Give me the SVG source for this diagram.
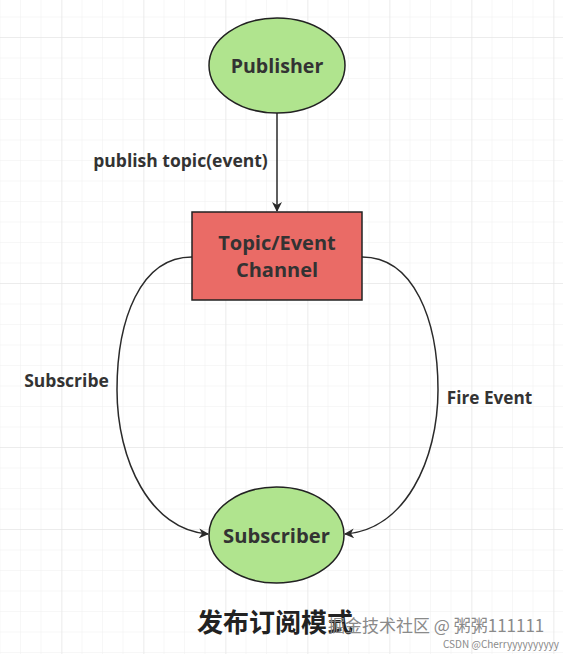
<svg xmlns="http://www.w3.org/2000/svg" width="563" height="654" viewBox="0 0 563 654">
<style>
.node{stroke:#222;stroke-width:1.5}
.lbl{font-family:"Open Sans","Noto Sans",sans-serif;font-weight:bold;fill:#333;text-anchor:middle}
.edge{fill:none;stroke:#2a2a2a;stroke-width:1.5}
.wm{font-family:"Noto Sans CJK SC",sans-serif;fill:#8a8a8a}
</style>
<defs>
<pattern id="minor" patternUnits="userSpaceOnUse" x="-0.5" y="16.5" width="20.5" height="20.5">
<path d="M0,0 H20.5 M0,0 V20.5" fill="none" stroke="#efefef" stroke-width="1"/>
</pattern>
<pattern id="major" patternUnits="userSpaceOnUse" x="-20.5" y="37" width="82" height="82">
<path d="M0,0 H82 M0,0 V82" fill="none" stroke="#e2e2e2" stroke-width="1"/>
</pattern>
<marker id="arr" viewBox="0 0 10 10" refX="9" refY="5" markerWidth="10" markerHeight="10" markerUnits="userSpaceOnUse" orient="auto">
<path d="M0,0 L10,5 L0,10 L3,5 z" fill="#2a2a2a"/>
</marker>
</defs>
<rect width="563" height="654" fill="#fff"/>
<rect width="563" height="654" fill="url(#minor)"/>
<rect width="563" height="654" fill="url(#major)"/>

<g id="connectors">
<path class="edge" d="M277,113 V211" marker-end="url(#arr)"/>
<path class="edge" d="M192,257 C140,257 117,320 117,390 C117,460 150,530 208,534" marker-end="url(#arr)"/>
<path class="edge" d="M362,257 C414,257 438,320 438,390 C438,460 405,530 345,534" marker-end="url(#arr)"/>
<text class="lbl" x="180.5" y="167" font-size="17.5">publish topic(event)</text>
<text class="lbl" x="66.5" y="387" font-size="17.5">Subscribe</text>
<text class="lbl" x="489.5" y="404" font-size="17.2">Fire Event</text>
</g>

<g id="publisher">
<ellipse class="node" cx="277" cy="65.5" rx="68" ry="47.5" fill="#b0e48e"/>
<text class="lbl" x="277" y="73" font-size="19.6">Publisher</text>
</g>

<g id="channel">
<rect class="node" x="192" y="212" width="170" height="88" fill="#ea6b66"/>
<text class="lbl" x="277" y="250" font-size="20">Topic/Event</text>
<text class="lbl" x="277" y="277" font-size="20">Channel</text>
</g>

<g id="subscriber">
<ellipse class="node" cx="276.5" cy="535" rx="67.5" ry="48" fill="#b0e48e"/>
<text class="lbl" x="276.5" y="543" font-size="20.2">Subscriber</text>
</g>

<g id="caption">
<text x="197" y="632" font-family="Noto Sans CJK SC,sans-serif" font-weight="bold" font-size="26" fill="#222">发布订阅模式</text>
<text class="wm" x="328" y="632" font-size="17">掘金技术社区 @ 粥粥111111</text>
<text class="wm" x="443" y="648" font-size="10" fill="#b0b0b0" font-family="Liberation Sans,sans-serif">CSDN @Cherryyyyyyyyyy</text>
</g>
</svg>
